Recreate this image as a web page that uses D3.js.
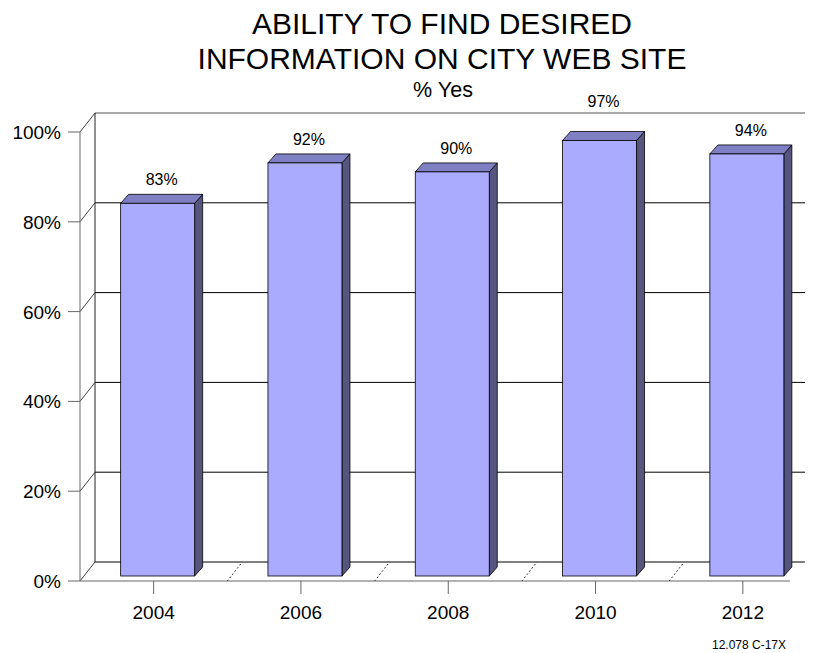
<!DOCTYPE html>
<html>
<head>
<meta charset="utf-8">
<script src="https://cdn.jsdelivr.net/npm/d3@7/dist/d3.min.js"></script>
<style>
  html, body { margin: 0; padding: 0; background: #fff; }
  svg { display: block; font-family: Arial, "Liberation Sans", sans-serif; }
</style>
</head>
<body>
<svg id="chart" width="817" height="653"></svg>
<script>
// Survey results: share answering "Yes"
const years = ["2004", "2006", "2008", "2010", "2012"];
const yesPct = [83, 92, 90, 97, 94];
const yTicks = [0, 20, 40, 60, 80, 100];
const titleLines = ["ABILITY TO FIND DESIRED", "INFORMATION ON CITY WEB SITE"];
const subtitle = "% Yes";
const footnote = "12.078 C-17X";

const svg = d3.select("#chart");

// Front plane of the 3-D box
const left = 80, bandStep = 147.3;
const frontRight = 790;
const depth = { dx: 15, dy: -19 };     // back wall offset
const barShift = { dx: 4, dy: -5 };    // bar front face offset from front plane
const barDepth = { dx: 8, dy: -9 };    // bar thickness
const barWidth = 74;

const x = d3.scaleBand().domain(years).range([left, left + bandStep * years.length]).padding(0);
const y = d3.scaleLinear().domain([0, 100]).range([581, 132]);

// Titles
svg.append("text").attr("x", 442).attr("y", 34).attr("text-anchor", "middle")
  .attr("font-size", 30).text(titleLines[0]);
svg.append("text").attr("x", 442).attr("y", 68.5).attr("text-anchor", "middle")
  .attr("font-size", 30).text(titleLines[1]);
svg.append("text").attr("x", 443).attr("y", 96.5).attr("text-anchor", "middle")
  .attr("font-size", 21.5).text(subtitle);

// Back wall gridlines
const grid = svg.append("g");
yTicks.forEach(t => {
  const yy = y(t);
  grid.append("line")
    .attr("x1", left + depth.dx).attr("x2", frontRight + depth.dx)
    .attr("y1", yy + depth.dy).attr("y2", yy + depth.dy)
    .attr("stroke", t === 100 ? "#555" : "#000").attr("stroke-width", 1);
  // left wall diagonals
  grid.append("line")
    .attr("x1", left).attr("y1", yy)
    .attr("x2", left + depth.dx).attr("y2", yy + depth.dy)
    .attr("stroke", "#444").attr("stroke-width", 1);
});
// Back wall left edge
grid.append("line")
  .attr("x1", left + depth.dx).attr("x2", left + depth.dx)
  .attr("y1", y(0) + depth.dy).attr("y2", y(100) + depth.dy)
  .attr("stroke", "#222");

// Dotted floor dividers between categories
years.slice(1).forEach(yr => {
  const bx = x(yr);
  grid.append("line")
    .attr("x1", bx).attr("y1", y(0))
    .attr("x2", bx + depth.dx).attr("y2", y(0) + depth.dy)
    .attr("stroke", "#000").attr("stroke-dasharray", "1.5,2.5");
});

// Front left axis and baseline
const axis = svg.append("g");
axis.append("line").attr("x1", left).attr("x2", left)
  .attr("y1", y(0)).attr("y2", y(100)).attr("stroke", "#666");
axis.append("line").attr("x1", left).attr("x2", frontRight)
  .attr("y1", y(0)).attr("y2", y(0)).attr("stroke", "#666");

// Y ticks and labels
yTicks.forEach(t => {
  axis.append("line").attr("x1", left - 12).attr("x2", left)
    .attr("y1", y(t)).attr("y2", y(t)).attr("stroke", "#666");
  axis.append("text").attr("x", 61).attr("y", y(t) + 7)
    .attr("text-anchor", "end").attr("font-size", 19).text(t + "%");
});

// X ticks and labels
years.forEach(yr => {
  const cx = x(yr) + x.bandwidth() / 2;
  axis.append("line").attr("x1", cx).attr("x2", cx)
    .attr("y1", y(0)).attr("y2", y(0) + 13).attr("stroke", "#666");
  axis.append("text").attr("x", cx).attr("y", 619)
    .attr("text-anchor", "middle").attr("font-size", 19).text(yr);
});

// 3-D bars
const bars = svg.append("g");
const topLine = y(100) + depth.dy;
years.forEach((yr, i) => {
  const v = yesPct[i];
  const cx = x(yr) + x.bandwidth() / 2;
  const x0 = cx - barWidth / 2 + barShift.dx;
  const x1 = x0 + barWidth;
  const yb = y(0) + barShift.dy;
  const yt = y(v) + barShift.dy;
  const dx = barDepth.dx, dy = barDepth.dy;

  // side face
  bars.append("path")
    .attr("d", `M${x1},${yt}L${x1 + dx},${yt + dy}L${x1 + dx},${yb + dy}L${x1},${yb}Z`)
    .attr("fill", "#55557f").attr("stroke", "#000").attr("stroke-width", 0.8)
    .attr("stroke-linejoin", "round");
  // top face
  bars.append("path")
    .attr("d", `M${x0},${yt}L${x0 + dx},${yt + dy}L${x1 + dx},${yt + dy}L${x1},${yt}Z`)
    .attr("fill", "#7f7fc4").attr("stroke", "#000").attr("stroke-width", 0.8)
    .attr("stroke-linejoin", "round");
  // front face
  bars.append("rect")
    .attr("x", x0).attr("y", yt).attr("width", barWidth).attr("height", yb - yt)
    .attr("fill", "#aaaaff").attr("stroke", "#000").attr("stroke-width", 0.8);

  // value label; lifted above the box top when it would cross the top gridline
  let ly = yt - 18;
  if (ly > topLine - 14 && ly < topLine + 14) ly = topLine - 6;
  bars.append("text")
    .attr("x", (x0 + x1) / 2 + dx / 2).attr("y", ly)
    .attr("text-anchor", "middle").attr("font-size", 16).text(v + "%");
});

// Footnote
svg.append("text").attr("x", 712).attr("y", 649)
  .attr("font-size", 12).text(footnote);
</script>
</body>
</html>
